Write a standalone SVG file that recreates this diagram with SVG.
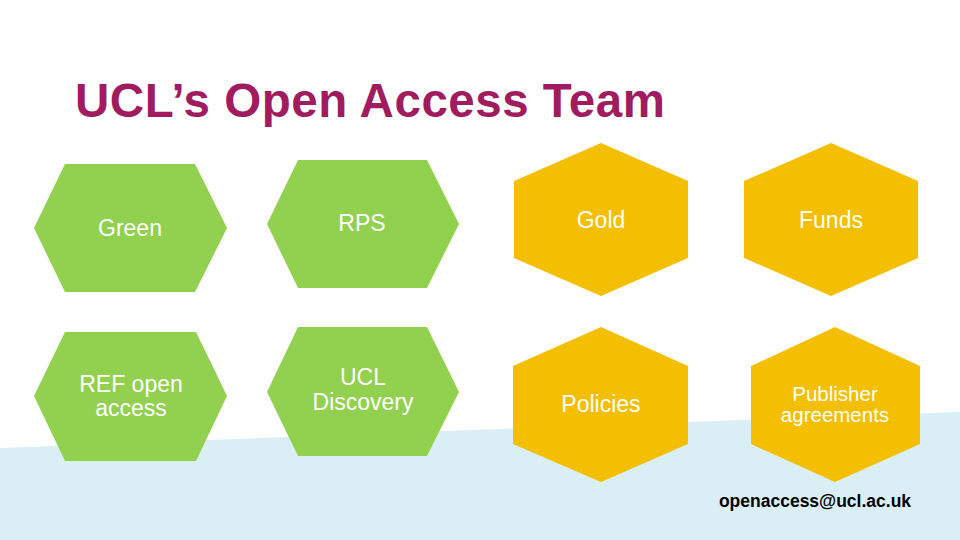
<svg xmlns="http://www.w3.org/2000/svg" width="960" height="540" viewBox="0 0 960 540">
<style>
.g{fill:#92D050}
.y{fill:#F3BF00}
.t{font-family:"Liberation Sans",Arial,sans-serif;fill:#FFFFFF;text-anchor:middle;font-size:23px}
.s{font-size:20.5px}
</style>
<rect width="960" height="540" fill="#FFFFFF"/>
<path d="M0,448 L500,429 L690,422 L960,412 L960,540 L0,540 Z" fill="#DAEFF5"/>
<text x="75" y="117" font-family="Liberation Sans,Arial,sans-serif" font-weight="bold" font-size="47.5" fill="#A01C5F" textLength="590" lengthAdjust="spacing">UCL’s Open Access Team</text>
<g id="connectors"></g>
<g id="green">
<polygon class="g" points="65,164 195,164 227,228 195,292 65,292 34,228"/>
<text class="t" x="130" y="236">Green</text>
</g>
<g id="rps">
<polygon class="g" points="298,160 427,160 459,224 427,288 298,288 267,224"/>
<text class="t" x="362" y="231">RPS</text>
</g>
<g id="ref">
<polygon class="g" points="65,332 196,332 227,396 196,461 65,461 34,396"/>
<text class="t" x="131" y="392">REF open</text>
<text class="t" x="131" y="416">access</text>
</g>
<g id="discovery">
<polygon class="g" points="298,327 427,327 459,392 427,456 298,456 267,392"/>
<text class="t" x="363" y="385">UCL</text>
<text class="t" x="363" y="410">Discovery</text>
</g>
<g id="gold">
<polygon class="y" points="601,143 688,181 688,258 601,296 514,258 514,181"/>
<text class="t" x="601" y="228">Gold</text>
</g>
<g id="funds">
<polygon class="y" points="831,143 918,181 918,258 831,296 744,258 744,181"/>
<text class="t" x="831" y="228">Funds</text>
</g>
<g id="policies">
<polygon class="y" points="601,327 688,366 688,444 601,482 513,444 513,366"/>
<text class="t" x="601" y="412">Policies</text>
</g>
<g id="publisher">
<polygon class="y" points="835,327 920,366 920,444 835,482 751,444 751,366"/>
<text class="t s" x="835" y="401">Publisher</text>
<text class="t s" x="835" y="422">agreements</text>
</g>
<text x="815" y="507" font-family="Liberation Sans,Arial,sans-serif" font-weight="bold" font-size="17.5" fill="#000000" text-anchor="middle">openaccess@ucl.ac.uk</text>
</svg>
